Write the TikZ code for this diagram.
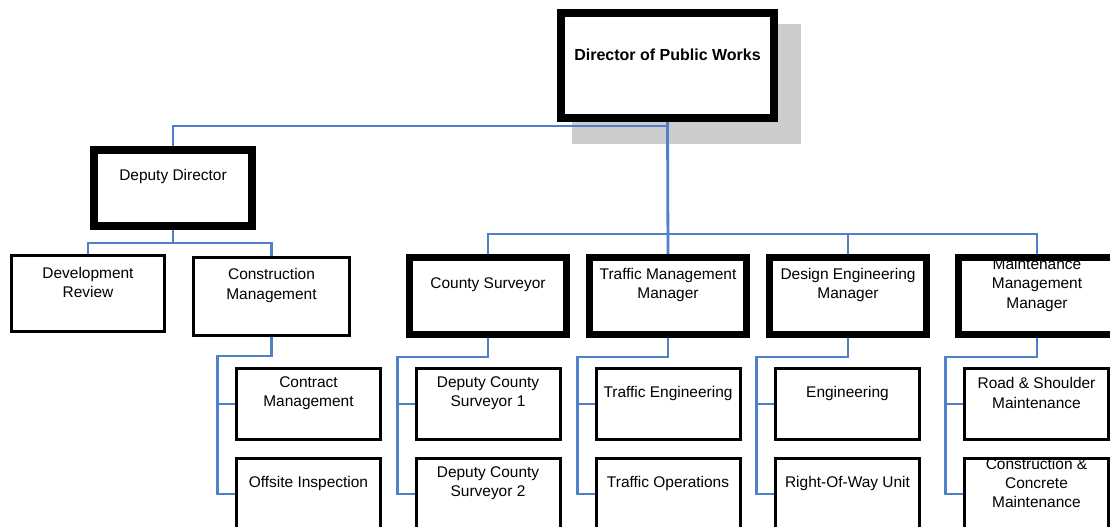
\documentclass[tikz,border=0pt]{standalone}
\usepackage{fontspec}
\setmainfont{Liberation Sans}
\usetikzlibrary{backgrounds}
\definecolor{linkblue}{RGB}{79,129,200}

\begin{document}
\begin{tikzpicture}[x=0.75pt, y=-0.75pt, font=\fontsize{11.6}{14.6}\selectfont,
    every label/.style={align=center, yshift=8.25pt},
    head/.style={draw, line width=6pt, fill=white, inner sep=0pt, minimum width=159.75pt, minimum height=78.75pt},
    deputy/.style={draw, line width=6pt, fill=white, inner sep=0pt, minimum width=118.5pt, minimum height=57pt},
    mgr/.style={draw, line width=5.25pt, fill=white, inner sep=0pt, minimum width=117.75pt, minimum height=57.75pt},
    sect/.style={draw, line width=2.25pt, fill=white, inner sep=0pt, minimum width=117pt, minimum height=58.5pt},
    unit/.style={draw, line width=2.25pt, fill=white, inner sep=0pt, minimum width=108pt, minimum height=53.25pt},
    link/.style={draw=linkblue, line width=2.1pt}]
    \useasboundingbox (0,0) rectangle (1110,527);
    \clip (0,0) rectangle (1110,527);
    % top of the chart
    \node[head] (dpw) at (667.5,65.5) [label={[font=\fontsize{12}{14}\selectfont\bfseries]center:Director of Public Works}] {};
    \node[deputy] (deputy) at (173,188) [label=center:Deputy Director] {};
    \node[sect, minimum width=114.75pt, minimum height=57pt] (devrev) at (88,293.5) [label={center:Development\\Review}] {};
    \node[sect] (cons) at (271.5,296.5) [label={center:Construction\\Management}] {};
    % managers
    \node[mgr] (county) at (488,296) [label=center:County Surveyor] {};
    \node[mgr] (traffic) at (668,296) [label={center:Traffic Management\\Manager}] {};
    \node[mgr] (design) at (848,296) [label={center:Design Engineering\\Manager}] {};
    \node[mgr] (maint) at (1037,296) [label={center:Maintenance\\Management\\Manager}] {};
    % units
    \node[unit] (contract) at (308.5,404) [label={center:Contract\\Management}] {};
    \node[unit] (offsite) at (308.5,494) [label=center:Offsite Inspection] {};
    \node[unit] (dcs1) at (488,404) [label={center:Deputy County\\Surveyor 1}] {};
    \node[unit] (dcs2) at (488,494) [label={center:Deputy County\\Surveyor 2}] {};
    \node[unit] (treng) at (668,404) [label=center:Traffic Engineering] {};
    \node[unit] (trops) at (668,494) [label=center:Traffic Operations] {};
    \node[unit] (eng) at (847.5,404) [label=center:Engineering] {};
    \node[unit] (rowu) at (847.5,494) [label=center:Right-Of-Way Unit] {};
    \node[unit] (road) at (1036.5,404) [label={center:Road \& Shoulder\\Maintenance}] {};
    \node[unit] (concrete) at (1036.5,494) [label={center:Construction \&\\Concrete\\Maintenance}] {};
    % shadow and connectors behind the boxes
    \begin{scope}[on background layer]
        \fill[black!20] ([shift={(15,15)}]dpw.north west) rectangle ([shift={(23,22)}]dpw.south east);
        \draw[link] (dpw.south) -- (traffic.north);
        \draw[link] (deputy.north) -- ++(0,-20) -| (dpw.south);
        \foreach \n in {devrev,cons}
            \draw[link] (deputy.south) -- ++(0,13) -| (\n.north);
        \foreach \n in {county,design,maint}
            \draw[link] (traffic.north) ++(0,-20) -| (\n.north);
        \foreach \p/\a/\b in {cons/contract/offsite, county/dcs1/dcs2, traffic/treng/trops, design/eng/rowu, maint/road/concrete} {
            \draw[link] (\p.south) -- ++(0,19) -| ([xshift=-13pt]\b.west) -- (\b.west);
            \draw[link] ([xshift=-13pt]\a.west) -- (\a.west);
        }
    \end{scope}
\end{tikzpicture}
\end{document}
